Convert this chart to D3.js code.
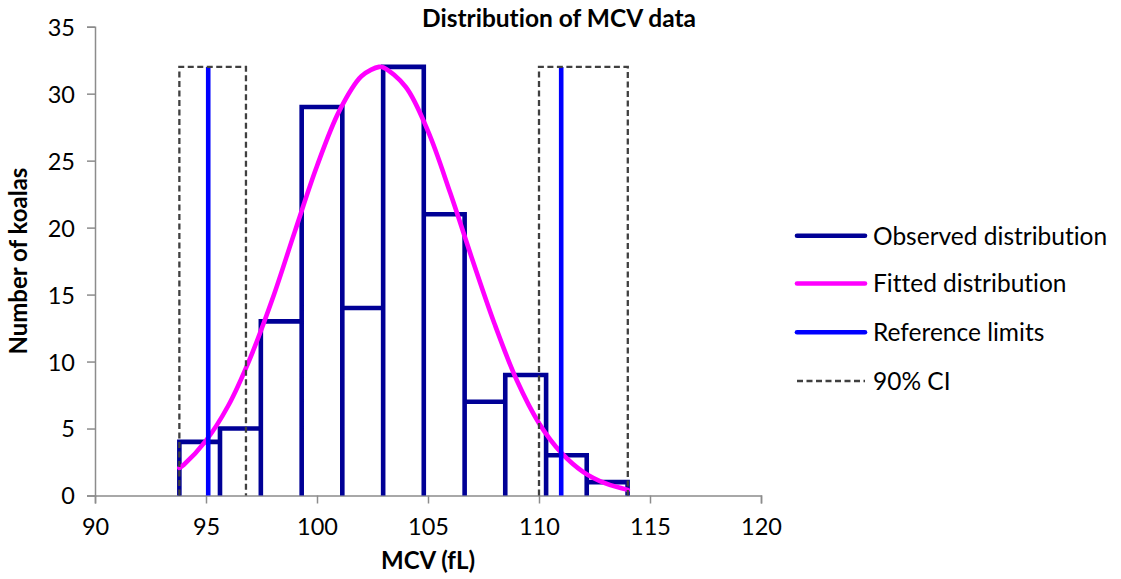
<!DOCTYPE html>
<html>
<head>
<meta charset="utf-8">
<script src="https://cdn.jsdelivr.net/npm/d3@7"></script>
<style>
  html, body { margin: 0; padding: 0; background: #fff; }
  svg { display: block; }
  text { font-family: Lato, "Open Sans", sans-serif; fill: #000; font-variant-ligatures: none; }
</style>
</head>
<body>
<svg id="chart" width="1121" height="579"></svg>
<script>
// Histogram of MCV (fL) values: bin edges and counts per bin
const binEdges = [93.8, 95.63, 97.47, 99.31, 101.14, 102.98, 104.81, 106.65, 108.48, 110.32, 112.15, 113.99];
const binCounts = [4, 5, 13, 29, 14, 32, 21, 7, 9, 3, 1];

// Fitted distribution curve (scaled to the histogram)
const fitX = [93.8, 94, 95, 96, 97, 98, 99, 100, 101, 102, 102.8, 103, 104, 105, 106, 107, 108, 109, 110, 111, 112, 113, 114];
const fitY = [2.05, 2.3, 4.1, 6.7, 10.3, 14.7, 19.7, 24.6, 28.7, 31.3, 32, 31.95, 30.5, 27.2, 22.6, 17.6, 12.8, 8.6, 5.4, 3.2, 1.75, 0.9, 0.42];

// Reference limits and their 90% confidence intervals
const refLimits = [95.1, 111.0];
const ciLower = [93.8, 96.8];
const ciUpper = [110.0, 114.0];
const markerHeight = 32;

// Axes
const xTicks = [90, 95, 100, 105, 110, 115, 120];
const yTicks = [0, 5, 10, 15, 20, 25, 30, 35];
const legendLabels = ["Observed distribution", "Fitted distribution", "Reference limits", "90% CI"];

const colors = {
  observed: "#000096",
  fitted: "#FF00FF",
  reference: "#0000FF",
  ci: "#404040",
  axis: "#8C8C8C"
};

const svg = d3.select("#chart");
const x = d3.scaleLinear().domain([90, 120]).range([95, 761]);
const y = d3.scaleLinear().domain([0, 35]).range([495.5, 26.7]);

// Axes
const xAxis = d3.axisBottom(x).tickValues(xTicks).tickSize(8).tickPadding(10).tickFormat(d3.format("d"));
const yAxis = d3.axisLeft(y).tickValues(yTicks).tickSize(8).tickPadding(12).tickFormat(d3.format("d"));

const gx = svg.append("g").attr("transform", `translate(0,${y(0)})`).call(xAxis);
const gy = svg.append("g").attr("transform", `translate(${x(90)},0)`).call(yAxis);
[gx, gy].forEach(g => {
  g.select(".domain").attr("stroke", colors.axis).attr("stroke-width", 1.5);
  g.selectAll(".tick line").attr("stroke", colors.axis).attr("stroke-width", 1.5);
  g.selectAll(".tick text").attr("font-family", "Lato, sans-serif").attr("font-size", 23.5).attr("fill", "#000");
});
gx.selectAll(".tick text").attr("dy", "0.9em");
gy.selectAll(".tick text").attr("dy", "0.36em");

// Observed distribution as a step outline, each bin dropping back to zero
const stepPts = [];
binCounts.forEach((c, i) => {
  stepPts.push([binEdges[i], 0], [binEdges[i], c], [binEdges[i + 1], c], [binEdges[i + 1], 0]);
});
const line = d3.line().x(d => x(d[0])).y(d => y(d[1]));
svg.append("path")
  .attr("d", line(stepPts))
  .attr("fill", "none")
  .attr("stroke", colors.observed)
  .attr("stroke-width", 4.6)
  .attr("stroke-linejoin", "miter");

// Fitted distribution
const fitLine = d3.line().x(d => x(d[0])).y(d => y(d[1])).curve(d3.curveCatmullRom.alpha(0.5));
svg.append("path")
  .attr("d", fitLine(fitX.map((v, i) => [v, fitY[i]])))
  .attr("fill", "none")
  .attr("stroke", colors.fitted)
  .attr("stroke-width", 4.6)
  .attr("stroke-linecap", "round");

// Reference limits
svg.selectAll("line.ref").data(refLimits).join("line")
  .attr("class", "ref")
  .attr("x1", d => x(d)).attr("x2", d => x(d))
  .attr("y1", y(0)).attr("y2", y(markerHeight))
  .attr("stroke", colors.reference)
  .attr("stroke-width", 4.6);

// 90% confidence intervals around each limit
[ciLower, ciUpper].forEach(ci => {
  svg.append("path")
    .attr("d", line([[ci[0], 0], [ci[0], markerHeight], [ci[1], markerHeight], [ci[1], 0]]))
    .attr("fill", "none")
    .attr("stroke", colors.ci)
    .attr("stroke-width", 2.3)
    .attr("stroke-dasharray", "6,3.5");
});

// Titles
svg.append("text")
  .attr("x", 559).attr("y", 27)
  .attr("text-anchor", "middle")
  .attr("font-size", 24.5).attr("font-weight", "bold")
  .text("Distribution of MCV data");

svg.append("text")
  .attr("x", (x(90) + x(120)) / 2).attr("y", 569)
  .attr("text-anchor", "middle")
  .attr("font-size", 24).attr("font-weight", "bold")
  .text("MCV (fL)");

svg.append("text")
  .attr("transform", `translate(27,${(y(0) + y(35)) / 2}) rotate(-90)`)
  .attr("text-anchor", "middle")
  .attr("font-size", 24).attr("font-weight", "bold")
  .text("Number of koalas");

// Legend
const legendY = [235.7, 283.5, 332.3, 381];
const legendStyles = [
  { stroke: colors.observed, width: 4.6, dash: null },
  { stroke: colors.fitted, width: 4.6, dash: null },
  { stroke: colors.reference, width: 4.6, dash: null },
  { stroke: colors.ci, width: 2.3, dash: "6,3.5" }
];
const lg = svg.append("g");
legendLabels.forEach((lab, i) => {
  lg.append("line")
    .attr("x1", 797).attr("x2", 865)
    .attr("y1", legendY[i]).attr("y2", legendY[i])
    .attr("stroke", legendStyles[i].stroke)
    .attr("stroke-width", legendStyles[i].width)
    .attr("stroke-linecap", legendStyles[i].dash ? "butt" : "round")
    .attr("stroke-dasharray", legendStyles[i].dash);
  lg.append("text")
    .attr("x", 873).attr("y", legendY[i])
    .attr("dy", "0.36em")
    .attr("font-size", 24.5)
    .text(lab);
});
</script>
</body>
</html>
